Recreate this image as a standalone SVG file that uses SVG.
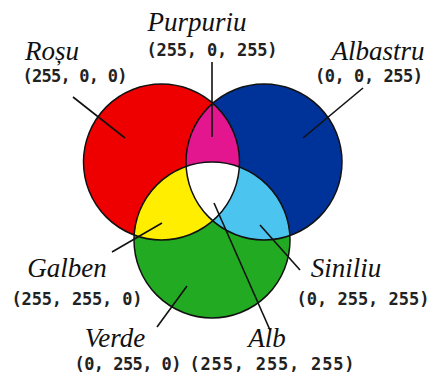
<svg xmlns="http://www.w3.org/2000/svg" width="433" height="376" viewBox="0 0 433 376">
<style>
.nm{font-family:"Liberation Serif","Times New Roman",serif;font-style:italic;font-size:27px;fill:#111}
.cv{font-family:"DejaVu Sans Mono","Liberation Mono",monospace;font-weight:bold;font-size:17px;fill:#222}
.ol{fill:none;stroke:#111;stroke-width:1.5}
.ln{stroke:#111;stroke-width:1.6;fill:none}
</style>
<defs>
<clipPath id="cR"><circle cx="161.5" cy="162" r="78"/></clipPath>
<clipPath id="cB"><circle cx="264" cy="162" r="78"/></clipPath>
<clipPath id="cG"><circle cx="212" cy="240" r="78"/></clipPath>
</defs>
<rect width="433" height="376" fill="#fff"/>
<g id="fills">
<circle cx="161.5" cy="162" r="78" fill="#ee0000"/>
<circle cx="264" cy="162" r="78" fill="#003399"/>
<circle cx="212" cy="240" r="78" fill="#22aa22"/>
<g clip-path="url(#cR)"><circle cx="264" cy="162" r="78" fill="#e3168f"/></g>
<g clip-path="url(#cR)"><circle cx="212" cy="240" r="78" fill="#ffee00"/></g>
<g clip-path="url(#cB)"><circle cx="212" cy="240" r="78" fill="#4cc4f0"/></g>
<g clip-path="url(#cR)"><g clip-path="url(#cB)"><circle cx="212" cy="240" r="78" fill="#ffffff"/></g></g>
</g>
<g id="outlines">
<circle class="ol" cx="161.5" cy="162" r="78"/>
<circle class="ol" cx="264" cy="162" r="78"/>
<circle class="ol" cx="212" cy="240" r="78"/>
</g>
<g id="connectors">
<line class="ln" x1="73" y1="97" x2="125" y2="138"/>
<line class="ln" x1="212" y1="62" x2="212" y2="137"/>
<line class="ln" x1="363" y1="88" x2="303" y2="138"/>
<line class="ln" x1="112" y1="252" x2="162" y2="223"/>
<line class="ln" x1="260" y1="225" x2="300" y2="270"/>
<line class="ln" x1="157" y1="327" x2="187" y2="286"/>
<line class="ln" x1="214" y1="203" x2="270" y2="330"/>
</g>
<g id="rosu"><text class="nm" x="52" y="60" text-anchor="middle">Roșu</text><text class="cv" x="75" y="82" text-anchor="middle" textLength="105">(255, 0, 0)</text></g>
<g id="purpuriu"><text class="nm" x="197" y="31" text-anchor="middle">Purpuriu</text><text class="cv" x="212" y="56" text-anchor="middle" textLength="131">(255, 0, 255)</text></g>
<g id="albastru"><text class="nm" x="378" y="60" text-anchor="middle">Albastru</text><text class="cv" x="369" y="82" text-anchor="middle" textLength="108">(0, 0, 255)</text></g>
<g id="galben"><text class="nm" x="67" y="277" text-anchor="middle">Galben</text><text class="cv" x="77" y="305" text-anchor="middle" textLength="131">(255, 255, 0)</text></g>
<g id="siniliu"><text class="nm" x="346" y="277" text-anchor="middle">Siniliu</text><text class="cv" x="363" y="305" text-anchor="middle" textLength="133">(0, 255, 255)</text></g>
<g id="verde"><text class="nm" x="115" y="347" text-anchor="middle">Verde</text><text class="cv" x="128" y="370" text-anchor="middle" textLength="107">(0, 255, 0)</text></g>
<g id="alb"><text class="nm" x="267" y="347" text-anchor="middle">Alb</text><text class="cv" x="272" y="370" text-anchor="middle" textLength="165">(255, 255, 255)</text></g>
</svg>
